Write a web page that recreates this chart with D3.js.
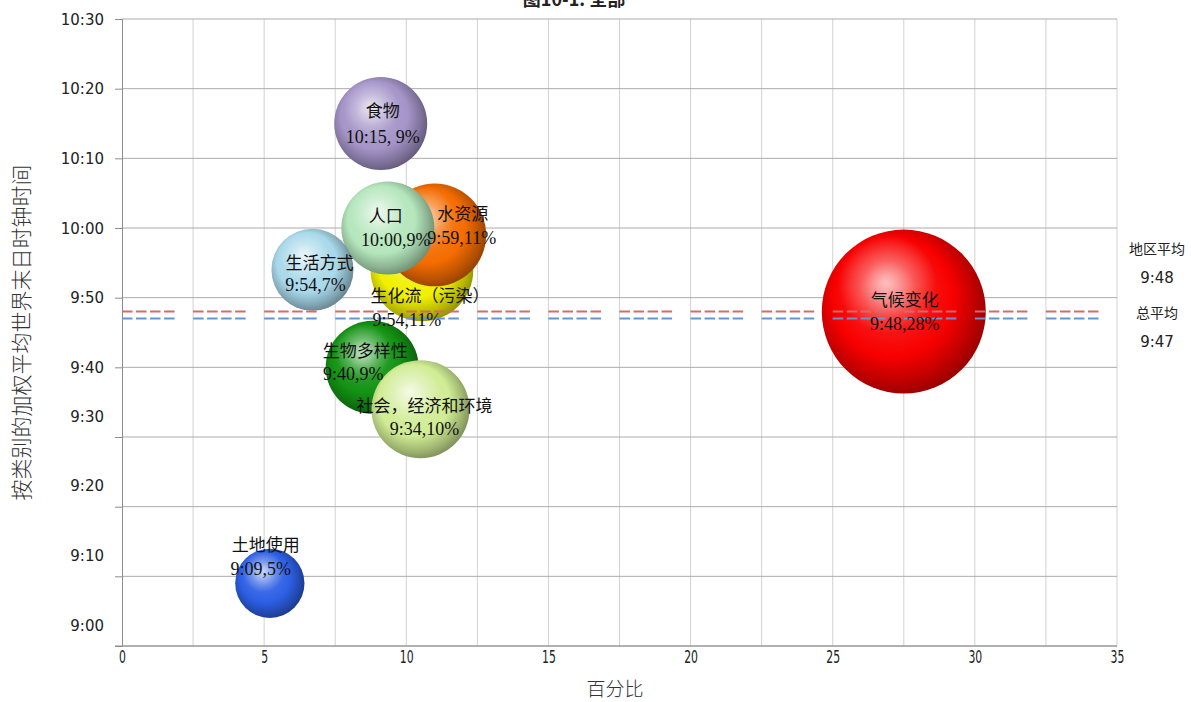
<!DOCTYPE html>
<html>
<head>
<meta charset="utf-8">
<script src="https://cdn.jsdelivr.net/npm/d3@7"></script>
<style>
  body { margin: 0; background: #fff; }
  svg { display: block; }
</style>
</head>
<body>
<div id="chart"></div>
<script>
// categories, drawn back to front
var categories = ["生化流（污染）", "水资源", "人口", "食物", "生活方式", "生物多样性", "社会，经济和环境", "土地使用", "气候变化"];
var percentX = [10.55, 11.0, 9.35, 9.1, 6.7, 8.8, 10.5, 5.2, 27.5];
var clockTimes = ["9:54", "9:59", "10:00", "10:15", "9:54", "9:40", "9:34", "9:09", "9:48"];
var sharePct = [11, 11, 9, 9, 7, 9, 10, 5, 28];

var averageNames = ["地区平均", "总平均"];
var averageTimes = ["9:48", "9:47"];

var xTicks = [0, 5, 10, 15, 20, 25, 30, 35];
var yTicks = ["9:00", "9:10", "9:20", "9:30", "9:40", "9:50", "10:00", "10:10", "10:20", "10:30"];

// styles
var bubbleColors = ["#f0f000", "#f46c00", "#b4e6bc", "#a494c8", "#a8d8ea", "#139313", "#d0ec94", "#2d5fe4", "#f80000"];
var averageColors = ["#d46a6a", "#6694d2"];
// label nudges from bubble centre: [name dx, name dy, value dx, value dy]
var labelNudge = {
    "生化流（污染）": [8, 26, -15, 50],
    "水资源": [28, -21, 27, 3],
    "人口": [-2, -12, 8, 12],
    "食物": [2, -12, 2, 13],
    "生活方式": [7, -7, 3, 15],
    "生物多样性": [-7, -16, -19, 6],
    "社会，经济和环境": [4, -3, 4, 20],
    "土地使用": [-4, -38, -9, -15],
    "气候变化": [1, -12, 1, 12]
};

function toMinutes(t) {
    var p = t.split(":");
    return +p[0] * 60 + +p[1];
}
function fmtTime(m) {
    return Math.floor(m / 60) + ":" + d3.format("02")(m % 60);
}

var svgWidth = 1191;
var svgHeight = 702;
var plot = { left: 122, right: 1117, top: 19, bottom: 646 };

var svg = d3.select("#chart")
    .append("svg")
    .attr("width", svgWidth)
    .attr("height", svgHeight);

var data = categories.map(function (c, i) {
    return { name: c, x: percentX[i], time: clockTimes[i], t: toMinutes(clockTimes[i]), pct: sharePct[i], color: bubbleColors[i] };
});

var x = d3.scaleLinear().domain([0, 35]).range([plot.left, plot.right]);
var y = d3.scaleLinear().domain([toMinutes("9:00"), toMinutes("10:30")]).range([plot.bottom, plot.top]);
var r = d3.scaleSqrt().domain([0, 28]).range([0, 82]);

// title, cut off at top like the source
svg.append("text")
    .attr("x", 574)
    .attr("y", 6)
    .attr("text-anchor", "middle")
    .style("font-family", "'Noto Sans CJK SC', sans-serif")
    .style("font-weight", "bold")
    .style("font-size", "18px")
    .style("fill", "#222")
    .text("图10-1. 全部");

// vertical gridlines
svg.append("g")
    .selectAll("line")
    .data(d3.range(2.5, 35.01, 2.5))
    .enter()
    .append("line")
    .attr("x1", function (d) { return x(d); })
    .attr("x2", function (d) { return x(d); })
    .attr("y1", plot.top)
    .attr("y2", plot.bottom)
    .attr("stroke", "#d2d2d2")
    .attr("stroke-width", 1);

// horizontal gridlines
svg.append("g")
    .selectAll("line")
    .data(yTicks.map(toMinutes))
    .enter()
    .append("line")
    .attr("x1", plot.left)
    .attr("x2", plot.right)
    .attr("y1", function (d) { return y(d); })
    .attr("y2", function (d) { return y(d); })
    .attr("stroke", "#ababab")
    .attr("stroke-width", 1);

// y axis
var yAxis = d3.axisLeft(y)
    .tickValues(yTicks.map(toMinutes))
    .tickSize(7)
    .tickPadding(11)
    .tickFormat(fmtTime);

var yG = svg.append("g")
    .attr("transform", "translate(" + plot.left + ",0)")
    .call(yAxis);
yG.select(".domain").attr("stroke", "#8c8c8c");
yG.selectAll(".tick line").attr("stroke", "#8c8c8c");
yG.selectAll(".tick text")
    .style("font-family", "'DejaVu Sans', sans-serif")
    .style("font-size", "15px")
    .style("fill", "#222")
    // the lower labels sit above their gridlines in the source
    .attr("dy", function (d) { return d < toMinutes("9:40") ? "-1.05em" : "0.35em"; });

// x axis
var xAxis = d3.axisBottom(x)
    .tickValues(xTicks)
    .tickSize(0)
    .tickPadding(4);

var xG = svg.append("g")
    .attr("transform", "translate(0," + plot.bottom + ")")
    .call(xAxis);
xG.select(".domain").remove();
xG.append("line")
    .attr("x1", plot.left - 7)
    .attr("x2", plot.right)
    .attr("stroke", "#8c8c8c");
xG.selectAll(".tick text")
    .attr("transform", "scale(0.68,1.08)")
    .style("font-family", "'DejaVu Sans', sans-serif")
    .style("font-size", "16px")
    .style("fill", "#222");

// axis titles
svg.append("text")
    .attr("transform", "translate(29," + (plot.top + plot.bottom) / 2 + ") rotate(-90)")
    .attr("text-anchor", "middle")
    .style("font-family", "'Noto Sans CJK SC', sans-serif")
    .style("font-size", "21px")
    .style("font-weight", 300)
    .style("fill", "#333")
    .text("按类别的加权平均世界末日时钟时间");

svg.append("text")
    .attr("x", 615)
    .attr("y", 696)
    .attr("text-anchor", "middle")
    .style("font-family", "'Noto Sans CJK SC', sans-serif")
    .style("font-size", "19px")
    .style("font-weight", 300)
    .style("fill", "#333")
    .text("百分比");

// sphere gradients
var defs = svg.append("defs");
data.forEach(function (d, i) {
    var base = d3.color(d.color);
    var g = defs.append("radialGradient")
        .attr("id", "ball" + i)
        .attr("cx", "46%").attr("cy", "46%").attr("r", "56%")
        .attr("fx", "38%").attr("fy", "32%");
    g.append("stop").attr("offset", "0%").attr("stop-color", d3.interpolateRgb(base, "#fff")(0.45));
    g.append("stop").attr("offset", "30%").attr("stop-color", d3.interpolateRgb(base, "#fff")(0.12));
    g.append("stop").attr("offset", "65%").attr("stop-color", base.formatHex());
    g.append("stop").attr("offset", "86%").attr("stop-color", base.darker(0.7).formatHex());
    g.append("stop").attr("offset", "100%").attr("stop-color", base.darker(1.4).formatHex());
});
var shine = defs.append("radialGradient")
    .attr("id", "shine")
    .attr("cx", "40%").attr("cy", "33%").attr("r", "30%");
shine.append("stop").attr("offset", "0%").attr("stop-color", "#fff").attr("stop-opacity", 0.55);
shine.append("stop").attr("offset", "100%").attr("stop-color", "#fff").attr("stop-opacity", 0);

// bubbles
var balls = svg.append("g")
    .selectAll("g")
    .data(data)
    .enter()
    .append("g");

balls.append("circle")
    .attr("cx", function (d) { return x(d.x); })
    .attr("cy", function (d) { return y(d.t); })
    .attr("r", function (d) { return r(d.pct); })
    .attr("fill", function (d, i) { return "url(#ball" + i + ")"; });

balls.append("circle")
    .attr("cx", function (d) { return x(d.x); })
    .attr("cy", function (d) { return y(d.t); })
    .attr("r", function (d) { return r(d.pct); })
    .attr("fill", "url(#shine)");

// average lines, dashed in groups of four per gridline cell
var cell = x(2.5) - x(0);
var dash = (cell - 18.5 - 3 * 3.5) / 4;
var dashArray = [dash, 3.5, dash, 3.5, dash, 3.5, dash, 18.5].join(",");

svg.append("g")
    .selectAll("line")
    .data(averageTimes)
    .enter()
    .append("line")
    .attr("x1", plot.left)
    .attr("x2", plot.right)
    .attr("y1", function (d) { return y(toMinutes(d)); })
    .attr("y2", function (d) { return y(toMinutes(d)); })
    .attr("stroke", function (d, i) { return averageColors[i]; })
    .attr("stroke-width", 2)
    .attr("stroke-dasharray", dashArray);

// bubble labels
var labels = svg.append("g")
    .selectAll("g")
    .data(data)
    .enter()
    .append("g")
    .attr("transform", function (d) { return "translate(" + x(d.x) + "," + y(d.t) + ")"; })
    .style("fill", "#111");

labels.append("text")
    .attr("x", function (d) { return labelNudge[d.name][0]; })
    .attr("y", function (d) { return labelNudge[d.name][1]; })
    .attr("dy", "0.35em")
    .attr("text-anchor", "middle")
    .style("font-family", "'Noto Sans CJK SC', serif")
    .style("font-size", "17px")
    .text(function (d) { return d.name; });

labels.append("text")
    .attr("x", function (d) { return labelNudge[d.name][2]; })
    .attr("y", function (d) { return labelNudge[d.name][3]; })
    .attr("dy", "0.35em")
    .attr("text-anchor", "middle")
    .style("font-family", "'Liberation Serif', serif")
    .style("font-size", "18px")
    .text(function (d) { return d.time + (d.name === "食物" ? ", " : ",") + d.pct + "%"; });

// average notes on the right
var notes = svg.append("g")
    .selectAll("g")
    .data(averageNames)
    .enter()
    .append("g")
    .attr("transform", function (d, i) { return "translate(1157," + (249 + i * 64) + ")"; });

notes.append("text")
    .attr("text-anchor", "middle")
    .attr("dy", "0.35em")
    .style("font-family", "'Noto Sans CJK SC', sans-serif")
    .style("font-size", "14px")
    .style("fill", "#222")
    .text(function (d) { return d; });

notes.append("text")
    .attr("y", 29)
    .attr("text-anchor", "middle")
    .attr("dy", "0.35em")
    .style("font-family", "'DejaVu Sans', sans-serif")
    .style("font-size", "15px")
    .style("fill", "#222")
    .text(function (d, i) { return averageTimes[i]; });
</script>
</body>
</html>
